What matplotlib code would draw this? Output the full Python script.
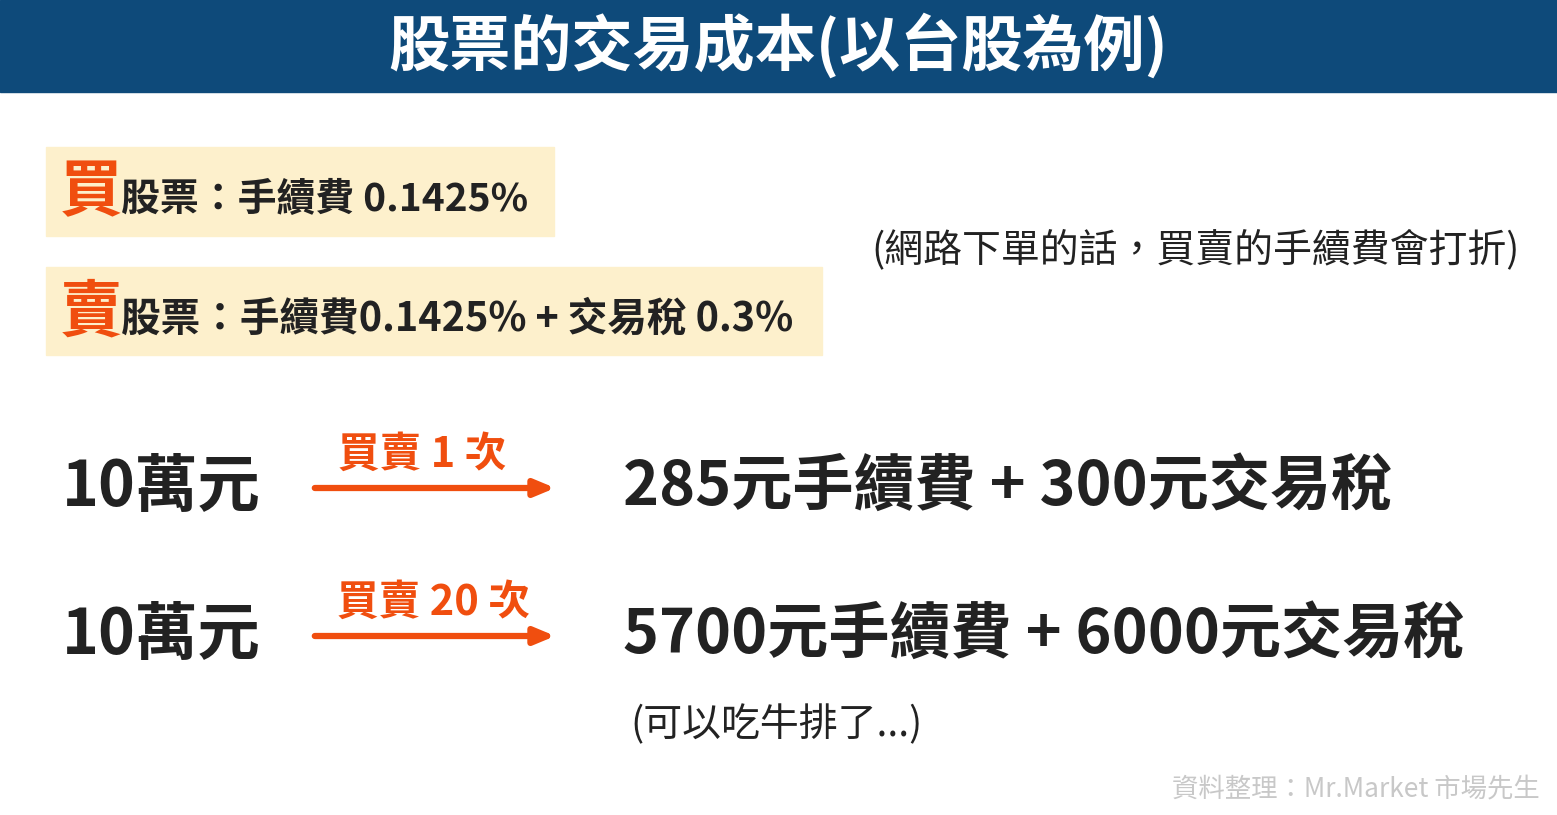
import matplotlib
matplotlib.use("Agg")
import matplotlib.pyplot as plt
from matplotlib.patches import Rectangle

plt.rcParams['font.family'] = ['Noto Sans CJK TC', 'DejaVu Sans']

title = "股票的交易成本(以台股為例)"
fee_rate = "0.1425%"
tax_rate = "0.3%"
principal = "10萬元"
trades = [1, 20]
fees = [285, 5700]
taxes = [300, 6000]
note = "(網路下單的話，買賣的手續費會打折)"
remark = "(可以吃牛排了...)"
credit = "資料整理：Mr.Market 市場先生"

ORANGE = "#f04e0f"
DARK = "#222222"

fig = plt.figure(figsize=(15.57, 8.15), dpi=100)
ax = fig.add_axes([0, 0, 1, 1])
ax.set_xlim(0, 1557)
ax.set_ylim(815, 0)
ax.axis("off")

ax.add_patch(Rectangle((0, 0), 1557, 92, color="#0e4a7a"))
ax.text(778, 46, title, color="white", fontsize=44, fontweight="heavy", ha="center", va="center")

ax.add_patch(Rectangle((46, 147), 508, 89, color="#fdf0cc"))
ax.add_patch(Rectangle((46, 267), 776, 88, color="#fdf0cc"))
ax.text(60, 193, "買", color=ORANGE, fontsize=45, fontweight="heavy", va="center")
ax.text(121, 199, f"股票：手續費 {fee_rate}", color=DARK, fontsize=28, fontweight="bold", va="center")
ax.text(60, 313, "賣", color=ORANGE, fontsize=45, fontweight="heavy", va="center")
ax.text(121, 319, f"股票：手續費{fee_rate} + 交易稅 {tax_rate}", color=DARK, fontsize=28.5, fontweight="bold", va="center")

ax.text(1520, 250, note, color=DARK, fontsize=28, ha="right", va="center")

for y, n, f, t in zip([487, 635], trades, fees, taxes):
    ax.text(62, y, principal, color=DARK, fontsize=45, fontweight="bold", va="center")
    ax.annotate("", xy=(558, y + 1), xytext=(312, y + 1),
                arrowprops=dict(arrowstyle="-|>,head_length=1.2,head_width=0.5", color=ORANGE, lw=4.5))
    ax.text(422 + (12 if n >= 10 else 0), y - 32, f"買賣 {n} 次", color=ORANGE, fontsize=30,
            fontweight="bold", ha="center", va="center")
    ax.text(623, y, f"{f}元手續費 + {t}元交易稅", color=DARK, fontsize=44, fontweight="bold", va="center")

ax.text(630, 725, remark, color=DARK, fontsize=28, va="center")
ax.text(1540, 790, credit, color="#c8c8c8", fontsize=19, ha="right", va="center")

fig.savefig("out.png", dpi=100, facecolor="white")
